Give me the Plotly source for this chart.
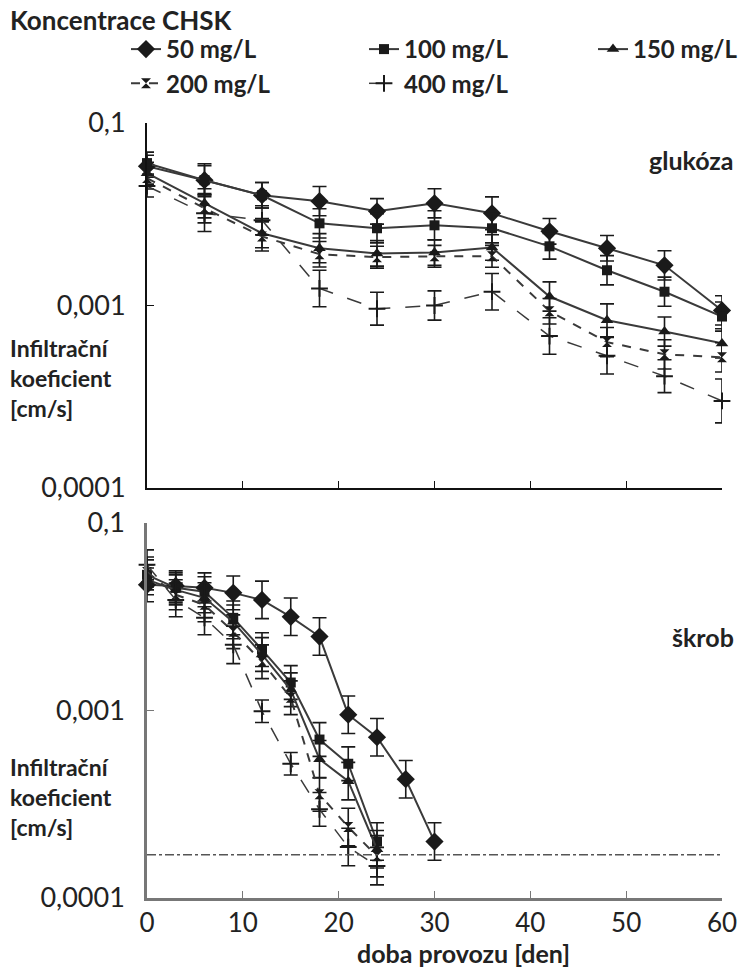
import numpy as np
import plotly.graph_objects as go

# ---------------- data ----------------
SERIES = ["50 mg/L", "100 mg/L", "150 mg/L", "200 mg/L", "400 mg/L"]

DAYS_GLU = [0, 6, 12, 18, 24, 30, 36, 42, 48, 54, 60]
GLU_50 = [0.058, 0.0486, 0.0402, 0.0373, 0.0328, 0.0363, 0.0320, 0.0255, 0.0206, 0.0166, 0.0094]
GLU_100 = [0.0603, 0.0486, 0.0402, 0.0282, 0.0265, 0.0275, 0.0265, 0.0211, 0.0156, 0.0119, 0.0087]
GLU_150 = [0.0531, 0.0363, 0.0249, 0.0206, 0.0193, 0.0195, 0.0208, 0.0112, 0.0083, 0.0072, 0.0062]
GLU_200 = [0.0499, 0.0341, 0.0239, 0.0191, 0.0184, 0.0186, 0.0186, 0.0093, 0.0063, 0.0054, 0.0052]
GLU_400 = [0.0451, 0.0320, 0.0293, 0.0124, 0.0096, 0.0100, 0.0119, 0.0068, 0.0053, 0.0041, 0.0030]

# error half-widths, in decades (log10 units)
GLU_ERR_50 = [0.06, 0.09, 0.07, 0.08, 0.07, 0.08, 0.09, 0.07, 0.07, 0.08, 0.08]
GLU_ERR_100 = [0.06, 0.08, 0.07, 0.08, 0.08, 0.08, 0.08, 0.07, 0.08, 0.08, 0.08]
GLU_ERR_150 = [0.06, 0.08, 0.08, 0.08, 0.07, 0.07, 0.07, 0.08, 0.09, 0.08, 0.08]
GLU_ERR_200 = [0.06, 0.08, 0.08, 0.07, 0.06, 0.06, 0.06, 0.07, 0.08, 0.08, 0.08]
GLU_ERR_400 = [0.06, 0.10, 0.08, 0.10, 0.09, 0.08, 0.10, 0.10, 0.10, 0.09, 0.12]

DAYS_SKR_50 = [0, 3, 6, 9, 12, 15, 18, 21, 24, 27, 30]
DAYS_SKR = [0, 3, 6, 9, 12, 15, 18, 21, 24]
SKR_50 = [0.0468, 0.0462, 0.0451, 0.0424, 0.0389, 0.0316, 0.0248, 0.0095, 0.0072, 0.0043, 0.0020]
SKR_100 = [0.0529, 0.0451, 0.0430, 0.0312, 0.0211, 0.0141, 0.0070, 0.0052, 0.0020]
SKR_150 = [0.0498, 0.0440, 0.0399, 0.0297, 0.0199, 0.0129, 0.0055, 0.0042, 0.00182]
SKR_200 = [0.0548, 0.0414, 0.0366, 0.0263, 0.0182, 0.0117, 0.00357, 0.00239, 0.00167]
SKR_400 = [0.0598, 0.0389, 0.0312, 0.0224, 0.0099, 0.0052, 0.00297, 0.00187, 0.00148]

SKR_ERR_50 = [0.09, 0.08, 0.08, 0.09, 0.10, 0.10, 0.10, 0.10, 0.10, 0.10, 0.10]
SKR_ERR_100 = [0.08, 0.08, 0.08, 0.09, 0.09, 0.09, 0.09, 0.09, 0.10]
SKR_ERR_150 = [0.08, 0.08, 0.08, 0.09, 0.09, 0.09, 0.10, 0.10, 0.10]
SKR_ERR_200 = [0.08, 0.08, 0.09, 0.09, 0.09, 0.09, 0.09, 0.10, 0.11]
SKR_ERR_400 = [0.08, 0.09, 0.09, 0.10, 0.06, 0.06, 0.09, 0.10, 0.10]

LIMIT = 0.0017  # dash-dot reference level in the lower panel

X_TICKS = [0, 10, 20, 30, 40, 50, 60]
Y_TICKVALS = [0.1, 0.01, 0.001]
Y_TICKTEXT = ["0,1", "0,001", "0,0001"]

# ---------------- styling ----------------
SYMBOLS = ["diamond", "square", "triangle-up", "hourglass", "cross-thin-open"]
SIZES = [14, 10, 11, 10, 12]
DASHES = ["solid", "solid", "solid", "dash", "longdash"]
LWIDTH = [2, 2, 2, 2, 1.5]
LEGEND_OF = ["legend", "legend2", "legend3", "legend", "legend2"]
INK = "#1a1a1a"
LINE = "#3a3a3a"
TXT = "#222222"
FONT = "Lato"

glu_vals = [GLU_50, GLU_100, GLU_150, GLU_200, GLU_400]
glu_errs = [GLU_ERR_50, GLU_ERR_100, GLU_ERR_150, GLU_ERR_200, GLU_ERR_400]
skr_vals = [SKR_50, SKR_100, SKR_150, SKR_200, SKR_400]
skr_errs = [SKR_ERR_50, SKR_ERR_100, SKR_ERR_150, SKR_ERR_200, SKR_ERR_400]
skr_days = [DAYS_SKR_50, DAYS_SKR, DAYS_SKR, DAYS_SKR, DAYS_SKR]


def log_err(vals, dec):
    v = np.array(vals, dtype=float)
    f = 10 ** np.array(dec, dtype=float)
    return (v * f - v).tolist(), (v - v / f).tolist()


fig = go.Figure()

for i, name in enumerate(SERIES):
    for panel, (days, vals, errs) in enumerate(
        [(DAYS_GLU, glu_vals[i], glu_errs[i]), (skr_days[i], skr_vals[i], skr_errs[i])]
    ):
        up, dn = log_err(vals, errs)
        fig.add_trace(
            go.Scatter(
                x=days,
                y=vals,
                name=name,
                legend=LEGEND_OF[i],
                showlegend=(panel == 0),
                mode="lines+markers",
                xaxis="x" if panel == 0 else "x2",
                yaxis="y" if panel == 0 else "y2",
                cliponaxis=False,
                line=dict(color=LINE, width=LWIDTH[i], dash=DASHES[i]),
                marker=dict(
                    symbol=SYMBOLS[i],
                    size=SIZES[i],
                    color=INK,
                    line=dict(color=INK, width=2 if i == 4 else 0),
                ),
                error_y=dict(
                    type="data",
                    symmetric=False,
                    array=up,
                    arrayminus=dn,
                    color=INK,
                    thickness=1.6,
                    width=7,
                ),
            )
        )

# dash-dot limit line in the lower panel
fig.add_trace(
    go.Scatter(
        x=[min(DAYS_GLU), max(DAYS_GLU)],
        y=[LIMIT, LIMIT],
        mode="lines",
        xaxis="x2",
        yaxis="y2",
        showlegend=False,
        line=dict(color="#555555", width=1.5, dash="dashdot"),
        hoverinfo="skip",
    )
)

L, R, T, B = 147, 25, 123, 71
W, H = 747, 969
PH = H - T - B


def px(xp):
    return (xp - L) / (W - L - R)


def py(yp):
    return (H - B - yp) / PH


axis_common = dict(
    showgrid=False,
    zeroline=False,
    showline=True,
    ticks="inside",
    tickfont=dict(family=FONT, size=27, color=TXT),
)

legend_common = dict(
    orientation="v",
    xanchor="left",
    yanchor="top",
    font=dict(family=FONT, size=24, color=TXT, weight="bold"),
    bgcolor="rgba(0,0,0,0)",
    tracegroupgap=0,
    y=py(27),
)

fig.update_layout(
    width=W,
    height=H,
    margin=dict(l=L, r=R, t=T, b=B, autoexpand=False),
    paper_bgcolor="white",
    plot_bgcolor="white",
    font=dict(family=FONT, color=TXT),
    xaxis=dict(
        axis_common,
        domain=[0, 1],
        anchor="y",
        range=[0, 60],
        tickvals=X_TICKS,
        showticklabels=False,
        linecolor="#111111",
        linewidth=2,
        tickcolor="#111111",
        ticklen=7,
    ),
    yaxis=dict(
        axis_common,
        domain=[py(488), 1],
        anchor="x",
        type="log",
        range=[-3, -1],
        tickvals=Y_TICKVALS,
        ticktext=Y_TICKTEXT,
        linecolor="#111111",
        linewidth=2,
        tickcolor="#111111",
        ticklen=7,
        ticklabelstandoff=14,
    ),
    xaxis2=dict(
        axis_common,
        domain=[0, 1],
        anchor="y2",
        range=[0, 60],
        tickvals=X_TICKS,
        ticktext=[str(t) for t in X_TICKS],
        tickfont=dict(family=FONT, size=26, color=TXT),
        linecolor="#777777",
        linewidth=2.5,
        tickcolor="#777777",
        ticklen=7,
    ),
    yaxis2=dict(
        axis_common,
        domain=[0, py(523)],
        anchor="x2",
        type="log",
        range=[-3, -1],
        tickvals=Y_TICKVALS,
        ticktext=Y_TICKTEXT,
        linecolor="#777777",
        linewidth=2.5,
        tickcolor="#777777",
        ticklen=7,
        ticklabelstandoff=14,
    ),
    legend=dict(legend_common, x=px(126)),
    legend2=dict(legend_common, x=px(364)),
    legend3=dict(legend_common, x=px(593)),
)

annos = [
    ("Koncentrace CHSK", 8, 20, "left", 26),
    ("glukóza", 736, 160, "right", 25),
    ("škrob", 736, 637, "right", 25),
    ("Infiltrační", 8, 348, "left", 23),
    ("koeficient", 8, 378, "left", 23),
    ("[cm/s]", 8, 408, "left", 23),
    ("Infiltrační", 8, 767, "left", 23),
    ("koeficient", 8, 797, "left", 23),
    ("[cm/s]", 8, 827, "left", 23),
    ("doba provozu [den]", 463, 953, "center", 25),
]
for text, xp_, yp_, anc, fs in annos:
    fig.add_annotation(
        text=f"<b>{text}</b>",
        x=px(xp_),
        y=py(yp_),
        xref="paper",
        yref="paper",
        xanchor=anc,
        yanchor="middle",
        showarrow=False,
        font=dict(family=FONT, size=fs, color=TXT),
    )

fig.write_html(
    "out.html",
    config={"displayModeBar": False},
    post_script="document.body.style.margin='0';",
)
